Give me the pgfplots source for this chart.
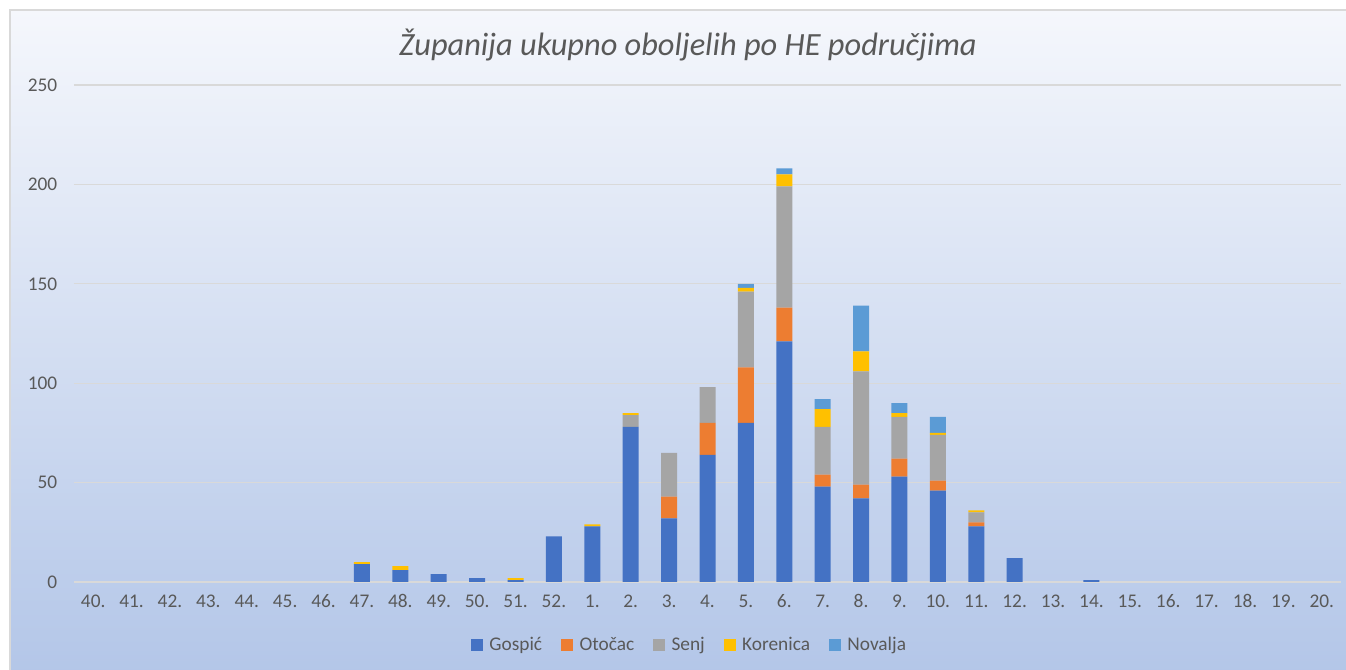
\documentclass[border=0pt]{standalone}
\usepackage{pgfplots}
\pgfplotsset{compat=1.18}
\usepackage{pgfplotstable}
\usepackage{fontspec}
\setmainfont{Carlito}
\definecolor{cGos}{HTML}{4472C4}
\definecolor{cOto}{HTML}{ED7D31}
\definecolor{cSen}{HTML}{A5A5A5}
\definecolor{cKor}{HTML}{FFC000}
\definecolor{cNov}{HTML}{5B9BD5}
\definecolor{txt}{HTML}{595959}
\definecolor{bgtop}{HTML}{F5F7FC}
\definecolor{bgbot}{HTML}{B3C6E8}
\pgfplotstableread{
x G O S K N
0 0 0 0 0 0
1 0 0 0 0 0
2 0 0 0 0 0
3 0 0 0 0 0
4 0 0 0 0 0
5 0 0 0 0 0
6 0 0 0 0 0
7 9 0 0 1 0
8 6 0 0 2 0
9 4 0 0 0 0
10 2 0 0 0 0
11 1 0 0 1 0
12 23 0 0 0 0
13 28 0 0 1 0
14 78 0 6 1 0
15 32 11 22 0 0
16 64 16 18 0 0
17 80 28 38 2 2
18 121 17 61 6 3
19 48 6 24 9 5
20 42 7 57 10 23
21 53 9 21 2 5
22 46 5 23 1 8
23 28 2 5 1 0
24 12 0 0 0 0
25 0 0 0 0 0
26 1 0 0 0 0
27 0 0 0 0 0
28 0 0 0 0 0
29 0 0 0 0 0
30 0 0 0 0 0
31 0 0 0 0 0
32 0 0 0 0 0
}\datatab
\begin{document}
\begin{tikzpicture}
\useasboundingbox (-55.5pt,-66pt) rectangle (954pt,436.5pt);
\fill[white] (-55.5pt,-66pt) rectangle (954pt,436.5pt);
\shade[top color=bgtop, bottom color=bgbot, draw=none] (-48pt,-70pt) rectangle (960pt,429pt);
\draw[color=black!15, line width=1.2pt] (-48pt,-70pt) -- (-48pt,429pt) -- (960pt,429pt);
\begin{axis}[
  at={(0pt,0pt)}, anchor=south west,
  scale only axis,
  width=950.25pt, height=372.75pt,
  ybar stacked,
  bar width=12pt,
  xmin=-0.5, xmax=32.5,
  ymin=0, ymax=250,
  ytick={0,50,...,250},
  xtick={0,...,32},
  xticklabels={40.,41.,42.,43.,44.,45.,46.,47.,48.,49.,50.,51.,52.,1.,2.,3.,4.,5.,6.,7.,8.,9.,10.,11.,12.,13.,14.,15.,16.,17.,18.,19.,20.},
  axis line style={draw=none},
  major tick style={draw=none},
  ymajorgrids,
  grid style={color=white!85!black, line width=1pt},
  ticklabel style={font=\fontsize{14.5}{16}\selectfont, text=txt},
  /pgf/number format/assume math mode=true,
  yticklabel style={xshift=-9pt},
  xticklabel style={yshift=-6pt},
  legend columns=5,
  legend style={at={(0.486,-0.127)}, anchor=center, draw=none, fill=none,
    font=\fontsize{14.5}{16}\selectfont, text=txt,
    /tikz/every even column/.append style={column sep=12pt},
    /tikz/every odd column/.append style={column sep=3pt}},
  legend image code/.code={\fill[#1] (0pt,-4.5pt) rectangle (9pt,4.5pt);},
  clip=false,
]
\addplot[fill=cGos, draw=none] table[x=x, y=G] {\datatab};
\addplot[fill=cOto, draw=none] table[x=x, y=O] {\datatab};
\addplot[fill=cSen, draw=none] table[x=x, y=S] {\datatab};
\addplot[fill=cKor, draw=none] table[x=x, y=K] {\datatab};
\addplot[fill=cNov, draw=none] table[x=x, y=N] {\datatab};
\legend{Gospić, Otočac, Senj, Korenica, Novalja}
\end{axis}
\node[text=txt, font=\fontsize{24.3}{27}\selectfont\itshape] at (460.5pt,402.75pt) {Županija ukupno oboljelih po HE područjima};
\end{tikzpicture}
\end{document}
